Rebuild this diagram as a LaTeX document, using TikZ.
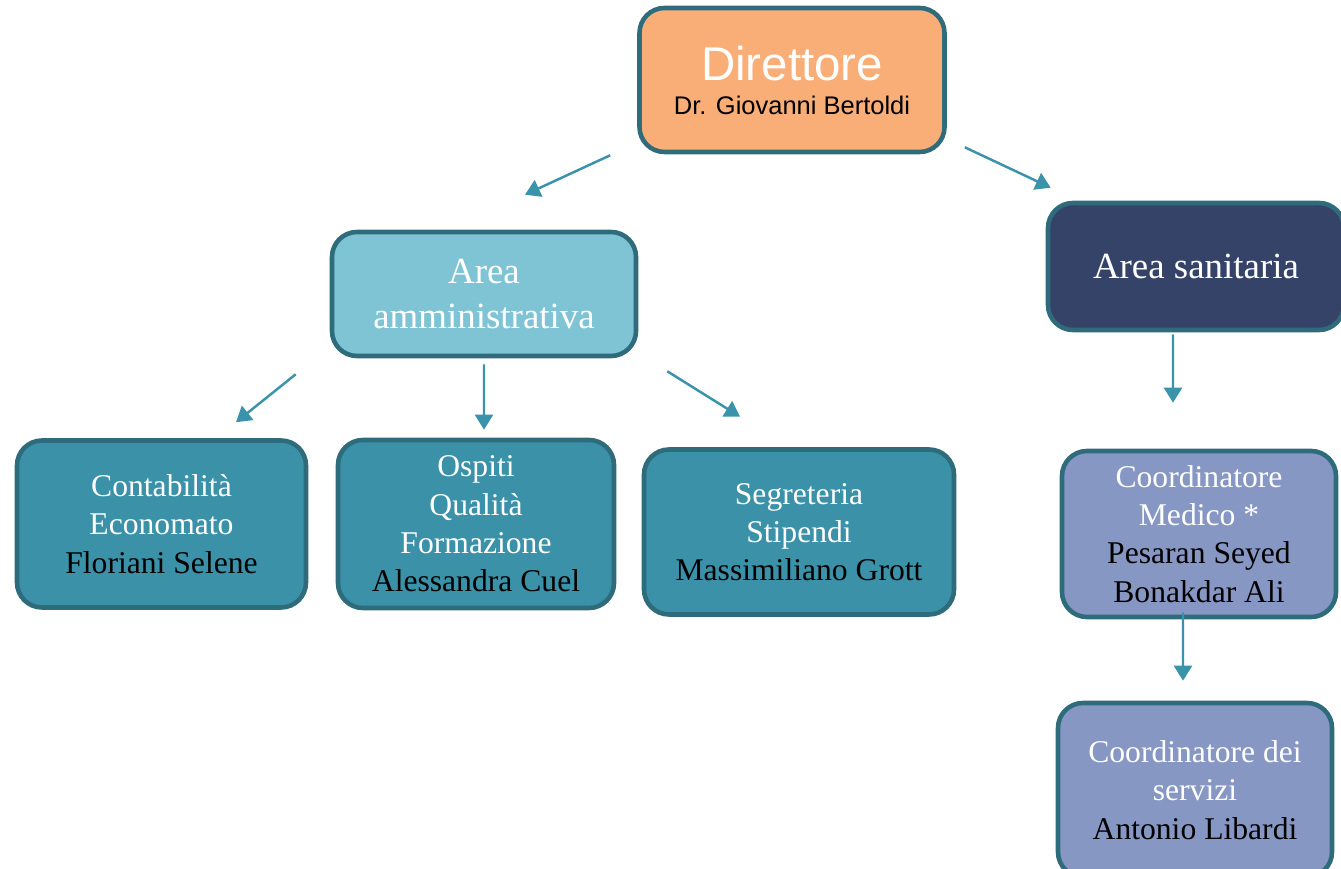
\documentclass[tikz,border=0pt]{standalone}
\usepackage{fontspec}
\setmainfont{Liberation Serif}
\setsansfont{Liberation Sans}
\usepackage{xcolor}
\usetikzlibrary{positioning,arrows.meta}
\definecolor{rim}{HTML}{2E6B7B}
\definecolor{orangeb}{HTML}{F9AE78}
\definecolor{lightb}{HTML}{7EC4D5}
\definecolor{navyb}{HTML}{354369}
\definecolor{tealb}{HTML}{3A91A8}
\definecolor{lavb}{HTML}{8797C4}
\definecolor{arrowc}{HTML}{3A93AA}

\begin{document}
\begin{tikzpicture}[
  bx/.style   ={draw=rim, line width=2.6pt, rounded corners=0.5cm, align=center,
                inner sep=2pt, text=white, font=\fontsize{18}{21.8}\selectfont},
  dirb/.style ={bx, fill=orangeb, minimum width=6.10cm, minimum height=2.88cm,
                font=\sffamily\fontsize{27}{19.3}\selectfont},
  ammb/.style ={bx, fill=lightb, minimum width=6.08cm, minimum height=2.48cm,
                font=\fontsize{21}{26}\selectfont},
  sanb/.style ={bx, fill=navyb, minimum width=5.92cm, minimum height=2.54cm,
                font=\fontsize{21}{26}\selectfont},
  subb/.style ={bx, fill=tealb},
  coob/.style ={bx, fill=lavb},
  ar/.style   ={-{Triangle[length=3mm,width=3.6mm]}, line width=1.4pt, draw=arrowc},
]
\useasboundingbox (0,0) rectangle (26.82,17.38);

% ---- top ----
\node[dirb] (dir) at (15.84,15.78)
  {Direttore\\
   {\fontsize{14.5}{19.3}\selectfont\color{black} Dr. Giovanni Bertoldi}};

% ---- areas ----
\node[ammb] (amm) at ( 9.68,11.50) {Area\\ amministrativa};
\node[sanb] (san) at (23.92,12.05) {Area sanitaria};

% ---- offices ----
\node[subb, minimum width=5.78cm, minimum height=3.34cm] (cont) at ( 3.23,6.90)
  {Contabilità\\ Economato\\ \textcolor{black}{Floriani Selene}};
\node[subb, minimum width=5.52cm, minimum height=3.36cm] (osp)  at ( 9.52,6.90)
  {Ospiti\\ Qualità\\ Formazione\\ \textcolor{black}{Alessandra Cuel}};
\node[subb, minimum width=6.20cm, minimum height=3.30cm] (seg)  at (15.98,6.74)
  {Segreteria\\ Stipendi\\ \textcolor{black}{Massimiliano Grott}};

% ---- coordinators ----
\node[coob, minimum width=5.48cm, minimum height=3.32cm] (med)  at (23.98,6.70)
  {Coordinatore\\ Medico *\\ \textcolor{black}{Pesaran Seyed}\\ \textcolor{black}{Bonakdar Ali}};
\node[coob, minimum width=5.48cm, minimum height=3.48cm] (serv) at (23.90,1.58)
  {Coordinatore dei\\ servizi\\ \textcolor{black}{Antonio Libardi}};

% ---- edges ----
\draw[ar] ([shift={(-0.54,-0.02)}]dir.south west) -- ([shift={(0.82,0.70)}]amm.north);
\draw[ar] ([shift={(0.36,0.14)}]dir.south east)   -- ([shift={(0.10,0.26)}]san.north west);
\draw[ar] ([shift={(-0.68,-0.32)}]amm.south west) -- ([shift={(1.49,0.32)}]cont.north);
\draw[ar] ([shift={(0,-0.12)}]amm.south)          -- ([shift={(0.16,0.16)}]osp.north);
\draw[ar] ([shift={(0.58,-0.26)}]amm.south east)  -- ([shift={(-1.18,0.61)}]seg.north);
\draw[ar] ([shift={(-0.46,-0.04)}]san.south)      -- ([shift={(-0.52,0.92)}]med.north);
\draw[ar] ([shift={(-0.32,0.14)}]med.south)       -- ([shift={(-0.24,0.40)}]serv.north);
\end{tikzpicture}
\end{document}
